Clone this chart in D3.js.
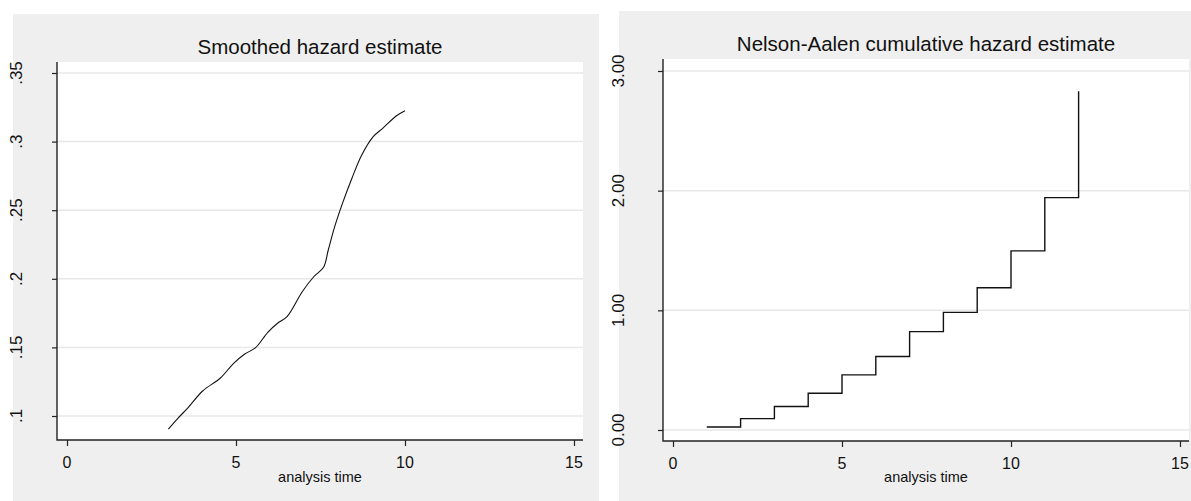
<!DOCTYPE html>
<html>
<head>
<meta charset="utf-8">
<script src="https://cdn.jsdelivr.net/npm/d3@7"></script>
<style>
  body { margin: 0; background: #fff; }
  svg { display: block; }
  text { font-family: "Liberation Sans", Arial, Helvetica, sans-serif; fill: #111; }
</style>
</head>
<body>
<svg id="chart" width="1191" height="501"></svg>
<script>
// smoothed hazard (left panel)
const hazTime = [3.0, 3.28, 3.59, 4.02, 4.53, 4.93, 5.26, 5.58, 5.94, 6.23, 6.51, 6.96, 7.30, 7.59, 7.73, 7.92, 8.15, 8.43, 8.72, 9.06, 9.34, 9.74, 10.0]
const hazValue = [0.0905, 0.0983, 0.1063, 0.1184, 0.1275, 0.1384, 0.1452, 0.1498, 0.1610, 0.1676, 0.1724, 0.1906, 0.2015, 0.2084, 0.2210, 0.2380, 0.2550, 0.2733, 0.2902, 0.3036, 0.3097, 0.3187, 0.3225]

// Nelson-Aalen cumulative hazard (right panel)
const naTime = [1, 2, 3, 4, 5, 6, 7, 8, 9, 10, 11, 12]
const naValue = [0.025, 0.095, 0.196, 0.307, 0.461, 0.614, 0.822, 0.983, 1.189, 1.497, 1.942, 2.83]

// ticks
const xTicks = [0, 5, 10, 15]
const hazYTicks = [0.1, 0.15, 0.2, 0.25, 0.3, 0.35]
const hazYLabels = ['.1', '.15', '.2', '.25', '.3', '.35']
const naYTicks = [0, 1, 2, 3]
const naYLabels = ['0.00', '1.00', '2.00', '3.00']

const titles = ['Smoothed hazard estimate', 'Nelson-Aalen cumulative hazard estimate']
const xTitle = 'analysis time'

const svg = d3.select('#chart')

// panel layouts
let panels = [
  {
    bg: [13, 14, 599, 501],
    plot: [57, 62, 583, 440],
    x: d3.scaleLinear().domain([0, 15]).range([67, 574]),
    y: d3.scaleLinear().domain([0.1, 0.35]).range([416, 73]),
    yTicks: hazYTicks,
    yLabels: hazYLabels,
    labelX: 22,
    titleY: 54,
    tickY: 468,
    title: titles[0],
    data: hazTime.map((t, i) => ({ t: t, v: hazValue[i] })),
    curve: d3.curveCatmullRom.alpha(0.5),
    width: 1.1
  },
  {
    bg: [619, 11, 1191, 501],
    plot: [663, 59, 1189, 441],
    x: d3.scaleLinear().domain([0, 15]).range([673, 1180]),
    y: d3.scaleLinear().domain([0, 3]).range([430, 71]),
    yTicks: naYTicks,
    yLabels: naYLabels,
    labelX: 624,
    titleY: 51,
    tickY: 469,
    title: titles[1],
    data: naTime.map((t, i) => ({ t: t, v: naValue[i] })),
    curve: d3.curveStepAfter,
    width: 1.4
  }
]

panels.forEach((p) => {
  let g = svg.append('g')

  // graph region
  g.append('rect')
    .attr('x', p.bg[0])
    .attr('y', p.bg[1])
    .attr('width', p.bg[2] - p.bg[0])
    .attr('height', p.bg[3] - p.bg[1])
    .attr('fill', '#efefef')

  // plot region
  g.append('rect')
    .attr('x', p.plot[0])
    .attr('y', p.plot[1])
    .attr('width', p.plot[2] - p.plot[0])
    .attr('height', p.plot[3] - p.plot[1])
    .attr('fill', '#fff')

  // grid lines
  g.append('g')
    .selectAll('line')
    .data(p.yTicks)
    .enter()
    .append('line')
    .attr('x1', p.plot[0])
    .attr('x2', p.plot[2])
    .attr('y1', (d) => p.y(d))
    .attr('y2', (d) => p.y(d))
    .attr('stroke', '#e8e8e8')
    .style('stroke-width', 1.5)

  // title
  g.append('text')
    .attr('x', (p.plot[0] + p.plot[2]) / 2)
    .attr('y', p.titleY)
    .attr('text-anchor', 'middle')
    .style('font-size', '20.5px')
    .text(p.title)

  // y axis
  let yAxis = g.append('g')
    .attr('transform', `translate(${p.plot[0]},0)`)
    .call(d3.axisLeft(p.y).tickValues(p.yTicks).tickSize(5).tickSizeOuter(0).tickFormat(''))
  yAxis.select('.domain').remove()
  yAxis.selectAll('.tick line').attr('stroke', '#222').style('stroke-width', 1.2)

  g.append('g')
    .selectAll('text')
    .data(p.yTicks)
    .enter()
    .append('text')
    .attr('transform', (d) => `translate(${p.labelX},${p.y(d)}) rotate(-90)`)
    .attr('text-anchor', 'middle')
    .style('font-size', '17px')
    .text((d, i) => p.yLabels[i])

  // x axis
  let xAxis = g.append('g')
    .attr('transform', `translate(0,${p.plot[3]})`)
    .call(d3.axisBottom(p.x).tickValues(xTicks).tickSize(6).tickSizeOuter(0).tickFormat(''))
  xAxis.select('.domain').remove()
  xAxis.selectAll('.tick line').attr('stroke', '#222').style('stroke-width', 1.2)

  g.append('g')
    .selectAll('text')
    .data(xTicks)
    .enter()
    .append('text')
    .attr('x', (d) => p.x(d))
    .attr('y', p.tickY)
    .attr('text-anchor', 'middle')
    .style('font-size', '16px')
    .text((d) => d)

  g.append('text')
    .attr('x', (p.plot[0] + p.plot[2]) / 2)
    .attr('y', 482)
    .attr('text-anchor', 'middle')
    .style('font-size', '14.5px')
    .text(xTitle)

  // axis lines
  g.append('path')
    .attr('d', `M${p.plot[0]},${p.plot[1]}V${p.plot[3]}H${p.plot[2]}`)
    .attr('stroke', '#222')
    .style('stroke-width', 1.4)
    .style('fill', 'none')

  // the curve
  g.append('path')
    .datum(p.data)
    .attr(
      'd',
      d3
        .line()
        .x((d) => p.x(d.t))
        .y((d) => p.y(d.v))
        .curve(p.curve)
    )
    .attr('stroke', '#111')
    .style('stroke-width', p.width)
    .style('fill', 'none')
})
</script>
</body>
</html>
